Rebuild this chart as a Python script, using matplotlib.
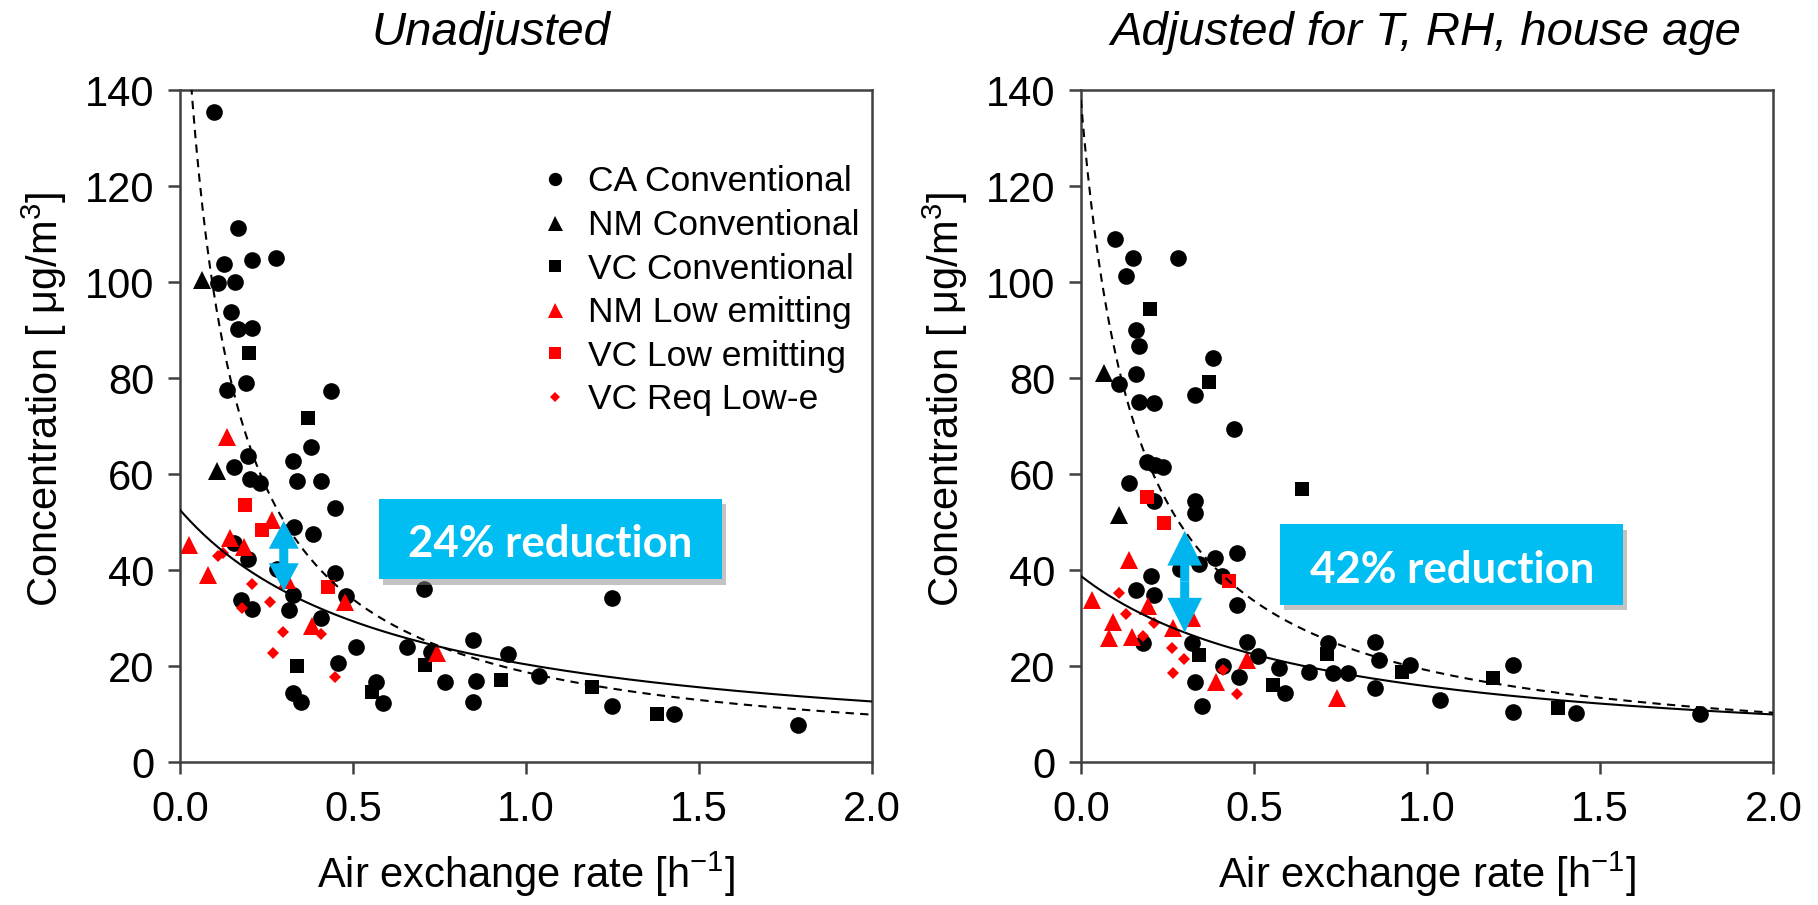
import numpy as np
import matplotlib
matplotlib.use('Agg')
import matplotlib.pyplot as plt
import matplotlib.patheffects as pe
from matplotlib.patches import Rectangle, FancyArrowPatch

plt.rcParams['font.family'] = ['Liberation Sans', 'DejaVu Sans']
plt.rcParams['mathtext.fontset'] = 'custom'
plt.rcParams['mathtext.rm'] = 'Liberation Sans'
plt.rcParams['mathtext.it'] = 'Liberation Sans:italic'

# ---------------- Unadjusted ----------------
un_ca_x = [0.098, 0.167, 0.127, 0.207, 0.277, 0.109, 0.159, 0.147, 0.167, 0.209,
           0.137, 0.190, 0.436, 0.379, 0.198, 0.328, 0.157, 0.202, 0.231, 0.337,
           0.408, 0.448, 0.329, 0.385, 0.157, 0.198, 0.279, 0.448, 0.706, 0.328,
           0.479, 0.176, 0.209, 0.316, 0.408, 0.508, 0.657, 0.846, 0.727, 0.947,
           0.458, 1.038, 0.766, 0.857, 0.568, 0.328, 0.349, 0.588, 0.846, 1.248,
           1.248, 1.428, 1.787]
un_ca_y = [135.5, 111.3, 103.7, 104.6, 105.1, 99.7, 100.1, 93.7, 90.3, 90.5,
           77.5, 78.9, 77.4, 65.6, 63.7, 62.7, 61.4, 58.9, 58.2, 58.6,
           58.6, 53.0, 49.0, 47.5, 45.6, 42.4, 40.3, 39.3, 36.0, 34.8,
           34.6, 33.8, 31.8, 31.7, 30.1, 24.0, 24.0, 25.4, 23.0, 22.4,
           20.7, 17.9, 16.7, 16.9, 16.7, 14.3, 12.4, 12.2, 12.4, 34.1,
           11.7, 10.1, 7.7]
un_nm_x = [0.065, 0.106]
un_nm_y = [100.4, 60.7]
un_vc_x = [0.199, 0.369, 0.337, 0.708, 0.929, 0.554, 1.190, 1.378]
un_vc_y = [85.3, 71.7, 20.1, 20.2, 17.1, 14.6, 15.7, 10.1]
un_nm_low_x = [0.137, 0.267, 0.027, 0.145, 0.186, 0.082, 0.308, 0.477, 0.382, 0.744]
un_nm_low_y = [67.8, 50.5, 45.2, 46.6, 44.9, 39.0, 37.9, 33.4, 28.3, 22.8]
un_vc_low_x = [0.188, 0.238, 0.429]
un_vc_low_y = [53.5, 48.3, 36.5]
un_vc_req_x = [0.109, 0.125, 0.209, 0.178, 0.260, 0.299, 0.408, 0.270, 0.448]
un_vc_req_y = [43.0, 43.5, 37.1, 32.1, 33.4, 27.1, 26.6, 22.8, 17.8]

# ---------------- Adjusted for T, RH, house age ----------------
adj_ca_x = [0.099, 0.150, 0.280, 0.130, 0.160, 0.169, 0.381, 0.160, 0.109, 0.330,
            0.169, 0.210, 0.441, 0.190, 0.215, 0.237, 0.140, 0.210, 0.330, 0.330,
            0.450, 0.388, 0.287, 0.342, 0.202, 0.407, 0.160, 0.210, 0.450, 0.181,
            0.320, 0.481, 0.511, 0.410, 0.571, 0.660, 0.728, 0.771, 0.458, 0.330,
            0.590, 0.349, 0.850, 0.850, 0.860, 0.715, 0.951, 1.038, 1.249, 1.249,
            1.430, 1.788]
adj_ca_y = [109.0, 105.1, 105.1, 101.3, 90.1, 86.7, 84.1, 80.8, 78.7, 76.5,
            75.1, 74.9, 69.3, 62.6, 61.9, 61.4, 58.1, 54.4, 54.4, 51.9,
            43.5, 42.6, 40.3, 41.2, 38.8, 38.8, 35.8, 34.8, 32.8, 24.7,
            24.7, 25.1, 22.1, 20.0, 19.5, 18.8, 18.6, 18.6, 17.8, 16.7,
            14.3, 11.7, 15.4, 24.9, 21.3, 24.8, 20.2, 12.9, 20.2, 10.5,
            10.3, 10.1]
adj_nm_x = [0.068, 0.111]
adj_nm_y = [81.0, 51.5]
adj_vc_x = [0.200, 0.370, 0.640, 0.342, 0.556, 0.710, 0.927, 1.190, 1.379]
adj_vc_y = [94.3, 79.2, 56.8, 22.3, 16.0, 22.5, 18.8, 17.4, 11.2]
adj_nm_low_x = [0.139, 0.032, 0.193, 0.092, 0.320, 0.267, 0.080, 0.147, 0.479, 0.391, 0.739]
adj_nm_low_y = [42.1, 33.8, 32.4, 29.2, 29.9, 27.9, 25.8, 26.1, 21.3, 16.7, 13.3]
adj_vc_low_x = [0.190, 0.240, 0.429]
adj_vc_low_y = [55.3, 49.7, 37.7]
adj_vc_req_x = [0.109, 0.131, 0.210, 0.181, 0.263, 0.299, 0.410, 0.267, 0.450]
adj_vc_req_y = [35.3, 30.8, 29.0, 26.3, 23.8, 21.4, 19.2, 18.6, 14.1]

# fitted curves C = a / (AER + b)
un_fit_conv = (20.88, 0.1157)
un_fit_low = (33.2, 0.632)
adj_fit_conv = (22.19, 0.1608)
adj_fit_low = (26.6, 0.686)

un_reduction = '24% reduction'
adj_reduction = '42% reduction'

labels = ['CA Conventional', 'NM Conventional', 'VC Conventional',
          'NM Low emitting', 'VC Low emitting', 'VC Req Low-e']
styles = [('o', 'black', 12), ('^', 'black', 13.5), ('s', 'black', 10.5),
          ('^', '#ff0000', 13.5), ('s', '#ff0000', 10.5), ('D', '#ff0000', 6.5)]

SPINE = '#404040'
BOX_C = '#00bef2'
ARROW_C = '#00b4ee'


def fit(p, x):
    return p[0] / (x + p[1])


def draw_panel(ax, series, fit_conv, fit_low, text, box_y, head):
    for (xs, ys), lab, (m, c, ms) in zip(series, labels, styles):
        ax.plot(xs, ys, linestyle='none', marker=m, color=c, markersize=ms,
                markeredgewidth=0, label=lab, zorder=2)

    xx = np.linspace(0.0, 2.0, 400)
    ax.plot(xx, fit(fit_conv, xx), color='black', lw=1.5, dashes=(4, 3), zorder=3)
    ax.plot(xx, fit(fit_low, xx), color='black', lw=1.5, zorder=3)

    # arrow between the two curves at AER = 0.3
    xa = 0.3
    y_lo, y_hi = fit(fit_low, xa), fit(fit_conv, xa)
    mid = (y_lo + y_hi) / 2
    for yend in (y_lo, y_hi):
        ax.add_patch(FancyArrowPatch(
            (xa, mid), (xa, yend),
            arrowstyle=f'simple,head_length={head[0]},head_width={head[1]},tail_width=6.5',
            mutation_scale=1, color=ARROW_C, lw=0, shrinkA=0, shrinkB=0, zorder=5))

    box = Rectangle((0.288, box_y), 0.495, 0.12, transform=ax.transAxes,
                    facecolor=BOX_C, edgecolor='none', zorder=6,
                    path_effects=[pe.SimplePatchShadow(offset=(3, -4), shadow_rgbFace='#888888', alpha=0.5),
                                  pe.Normal()])
    ax.add_patch(box)
    ax.text(0.288 + 0.495 / 2, box_y + 0.052, text, transform=ax.transAxes,
            ha='center', va='center', color='white', fontsize=31.5,
            family=['Lato', 'DejaVu Sans'], fontweight='bold', zorder=7)

    ax.set_xlim(0, 2.0)
    ax.set_ylim(0, 140)
    ax.set_xticks([0.0, 0.5, 1.0, 1.5, 2.0])
    ax.set_yticks(range(0, 141, 20))
    ax.tick_params(direction='out', length=8.5, width=1.8, color=SPINE,
                   labelsize=30, labelcolor='black')
    ax.tick_params(axis='x', pad=12)
    ax.tick_params(axis='y', pad=10)
    for s in ax.spines.values():
        s.set_color(SPINE)
        s.set_linewidth(1.8)
    ax.set_xlabel('Air exchange rate [h$^{-1}$]', fontsize=30, labelpad=14)
    ax.set_ylabel('Concentration [ μg/m$^{3}$]', fontsize=30)
    ax.yaxis.set_label_coords(-0.16, 0.54)


fig = plt.figure(figsize=(18.18, 9.05), dpi=100)
ax1 = fig.add_axes([0.0990, 0.1580, 0.3806, 0.7425])
ax2 = fig.add_axes([0.5945, 0.1580, 0.3810, 0.7425])

un_series = [(un_ca_x, un_ca_y), (un_nm_x, un_nm_y), (un_vc_x, un_vc_y),
             (un_nm_low_x, un_nm_low_y), (un_vc_low_x, un_vc_low_y), (un_vc_req_x, un_vc_req_y)]
adj_series = [(adj_ca_x, adj_ca_y), (adj_nm_x, adj_nm_y), (adj_vc_x, adj_vc_y),
              (adj_nm_low_x, adj_nm_low_y), (adj_vc_low_x, adj_vc_low_y), (adj_vc_req_x, adj_vc_req_y)]

draw_panel(ax1, un_series, un_fit_conv, un_fit_low, un_reduction, 0.272, (20, 21.6))
draw_panel(ax2, adj_series, adj_fit_conv, adj_fit_low, adj_reduction, 0.234, (25, 25))

ax1.legend(loc='upper left', bbox_to_anchor=(0.518, 0.888), frameon=False,
           fontsize=25.5, markerscale=0.8, handlelength=0.95, handletextpad=0.45,
           borderpad=0, borderaxespad=0, labelspacing=0.3)

fig.text(0.270, 0.964, 'Unadjusted', ha='center', va='center', style='italic', fontsize=34)
fig.text(0.7844, 0.964, 'Adjusted for T, RH, house age', ha='center', va='center',
         style='italic', fontsize=34)

fig.savefig('out.png', dpi=100, facecolor='white')
